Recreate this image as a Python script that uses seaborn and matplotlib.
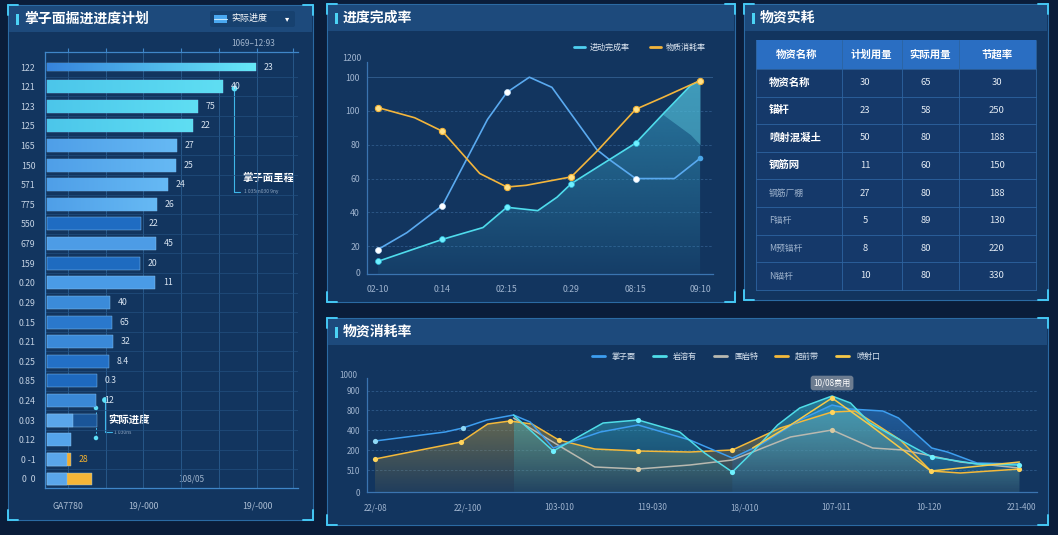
import numpy as np
import seaborn as sns
import matplotlib.pyplot as plt
from matplotlib.patches import Rectangle, FancyBboxPatch
from matplotlib.colors import LinearSegmentedColormap, to_rgb

W, H = 1058, 535

# ---- 掌子面掘进进度计划 (horizontal bars)
rows = ['122', '121', '123', '125', '165', '150', '571', '775', '550', '679', '159',
        '0.20', '0.29', '0.15', '0.21', '0.25', '0.85', '0.24', '0.03', '0.12', '0 -1', '0  0']
bar_len = [209, 176, 151, 146, 130, 129, 121, 110, 94, 109, 93, 108,
           63, 65, 66, 62, 50, 49, 50, 24, 24, 45]
bar_txt = ['23', '40', '75', '22', '27', '25', '24', '26', '22', '45', '20', '11',
           '40', '65', '32', '8.4', '0.3', '12', '', '', '28', '']
bar_col = ['#3f95e2', '#52cdea', '#56d4ed', '#58d8ee', '#5cb2f0', '#5ab0ef', '#5db4f2', '#58aaee',
           '#1f6cc2', '#4d9ce6', '#1e6bc0', '#4a9be6', '#3b8bd9', '#2a78cc', '#3a89d8', '#2370c6',
           '#1e69be', '#3a88d6', '#1a5598', '#55a4ea', '#f2ab2e', '#f5b537']
seg_rows = ['0.03', '0 -1', '0  0']
seg_len = [26, 20, 20]
left_xt = ['GA7780', '', '19/-000', '', '', '19/-000', '']

# ---- 进度完成率
mid_xt = ['02-10', '0:14', '02:15', '0:29', '08:15', '09:10']
blue_x = [0, 0.45, 1, 1.7, 2, 2.35, 2.7, 3.4, 3.6, 4, 4.6, 5]
blue_y = [18, 28, 44, 95, 111, 120, 114, 77, 71, 60, 60, 72]
blue_mk = [1, 0, 1, 0, 1, 0, 0, 0, 0, 1, 0, 1]
cyan_x = [0, 1, 1.63, 2, 2.48, 2.78, 3, 4, 4.42, 4.85, 5]
cyan_y = [11, 24, 31, 43, 41, 49, 57, 81, 98, 115, 118]
cyan_mk = [1, 1, 0, 1, 0, 0, 1, 1, 0, 0, 0]
orng_x = [0, 0.57, 1, 1.58, 2, 2.3, 3, 3.42, 4, 4.42, 5]
orng_y = [102, 96, 88, 63, 55, 56, 61, 77, 101, 108, 118]
orng_mk = [1, 0, 1, 0, 1, 0, 1, 0, 1, 0, 1]
tri_x = [4.42, 4.85, 5]
tri_lo = [98, 86, 80]
tri_hi = [98, 115, 118]
mid_yt = [4.5, 20, 40, 60, 80, 100, 120]
mid_yl = ['0', '20', '40', '60', '80', '100', '100']
mid_leg = ['进动完成率', '物质消耗率']

# ---- 物资实耗 table
tbl_head = ['物资名称', '计划用量', '实际用量', '节超率']
tbl_name = ['物资名称', '锚杆', '喷射混凝土', '钢筋网', '钢筋厂棚', 'F锚杆', 'M预锚杆', 'N锚杆']
tbl_plan = [30, 23, 50, 11, 27, 5, 8, 10]
tbl_real = [65, 58, 80, 60, 80, 89, 80, 80]
tbl_rate = [30, 250, 188, 150, 188, 130, 220, 330]

# ---- 物资消耗率
bot_xt = ['22/-08', '22/-100', '103-010', '119-030', '18/-010', '107-011', '10-120', '221-400']
bot_yt = [0, 110, 210, 310, 410, 505]
bot_yl = ['0', '510', '200', '400', '800', '900']
a_x = [0, 0.76, 0.95, 1.21, 1.5, 1.68, 1.93, 2.44, 2.85, 3.41, 3.87, 4.17, 4.6, 4.95, 5.15, 5.5, 5.67, 6.03, 6.2, 6.52, 6.98]
a_y = [255, 300, 320, 360, 385, 350, 220, 300, 335, 260, 170, 235, 360, 435, 415, 405, 370, 220, 200, 145, 140]
a_mk = [1, 0, 1, 0, 0, 0, 0, 0, 0, 0, 0, 0, 0, 0, 0, 0, 0, 0, 0, 0, 0]
b_x = [1.5, 1.93, 2.47, 2.85, 3.3, 3.57, 3.87, 4.09, 4.36, 4.6, 4.95, 5.15, 5.36, 5.69, 6.03, 6.52, 6.98]
b_y = [385, 205, 345, 360, 300, 195, 100, 200, 335, 420, 480, 445, 345, 260, 175, 140, 135]
b_mk = [0, 1, 0, 1, 0, 0, 1, 0, 0, 0, 0, 0, 0, 0, 1, 0, 1]
c_x = [1.5, 1.98, 2.38, 2.85, 3.41, 3.87, 4.09, 4.5, 4.95, 5.39, 5.72, 6.34, 6.98]
c_y = [370, 235, 125, 115, 135, 160, 200, 275, 310, 220, 210, 150, 120]
c_mk = [0, 0, 0, 1, 0, 0, 0, 0, 1, 0, 0, 0, 0]
d_x = [0, 0.93, 1.22, 1.46, 1.7, 1.99, 2.38, 2.85, 3.41, 3.87, 4.39, 4.95, 5.2, 5.69, 6.02, 6.34, 6.98]
d_y = [165, 250, 340, 355, 340, 260, 215, 205, 200, 210, 320, 400, 405, 260, 105, 95, 115]
d_mk = [1, 1, 0, 1, 0, 1, 0, 1, 0, 1, 0, 1, 0, 0, 1, 0, 1]
e_x = [4.09, 4.5, 4.95, 5.36, 6.02, 6.98]
e_y = [220, 335, 470, 335, 105, 150]
e_mk = [0, 0, 1, 0, 0, 0]
bot_leg = ['掌子面', '岩溶有', '围岩特', '超前带', '喷射口']
bot_col = ['#3d9ef0', '#4fdde8', '#b9b9b0', '#f4b93a', '#f7c948']

sns.set_style('dark')
plt.rcParams['font.family'] = ['Noto Sans CJK SC', 'DejaVu Sans']
plt.rcParams['axes.unicode_minus'] = False

fig = plt.figure(figsize=(W / 100, H / 100), dpi=100)
fig.patch.set_facecolor('#0a1d3a')


def box(l, t, r, b):
    return [l / W, 1 - b / H, (r - l) / W, (b - t) / H]


ov = fig.add_axes([0, 0, 1, 1])
ov.set_xlim(0, W)
ov.set_ylim(H, 0)
ov.axis('off')


def panel(l, t, r, b, title):
    ov.add_patch(Rectangle((l, t), r - l, b - t, fc='#12355f', ec='#2b6aa3', lw=0.8))
    ov.add_patch(Rectangle((l + 1, t + 1), r - l - 2, 26, fc='#1d4a7c', ec='none'))
    ov.add_patch(Rectangle((l + 8, t + 9), 2.5, 11, fc='#4cd3f5', ec='none'))
    ov.text(l + 16, t + 14, title, color='white', fontsize=10, fontweight='bold', va='center')
    for cx, cy, dx, dy in [(l, t, 1, 1), (r, t, -1, 1), (l, b, 1, -1), (r, b, -1, -1)]:
        ov.plot([cx, cx + dx * 10], [cy, cy], color='#45c8f5', lw=1.4)
        ov.plot([cx, cx], [cy, cy + dy * 10], color='#45c8f5', lw=1.4)


panel(8, 5, 313, 520, '掌子面掘进进度计划')
panel(327, 4, 735, 302, '进度完成率')
panel(744, 4, 1048, 300, '物资实耗')
panel(327, 318, 1048, 525, '物资消耗率')

# legend chip in panel 1
ov.add_patch(FancyBboxPatch((210, 11), 85, 16, boxstyle='round,pad=0,rounding_size=2', fc='#17416f', ec='none'))
ov.add_patch(Rectangle((214, 15), 13, 8, fc='#4aa8f0', ec='none'))
ov.plot([214, 227], [19, 19], color='#bfe6ff', lw=0.8)
ov.text(231, 19, '实际进度', color='white', fontsize=6.5, va='center')
ov.text(287, 19, '▾', color='white', fontsize=6, va='center', ha='center', family='DejaVu Sans')
ov.text(253, 43, '1069–12:93', color='#9fb3cb', fontsize=6, ha='center', va='center')
ov.text(191, 479, '108/05', color='#9fb3cb', fontsize=6, ha='center', va='center', zorder=5)

# ---------- left bar chart
ax1 = fig.add_axes(box(45, 52, 298, 488))
ax1.set_facecolor('none')
sns.barplot(x=bar_len, y=rows, hue=rows, palette=bar_col, legend=False, orient='h',
            width=0.66, saturation=1, ax=ax1, zorder=3, edgecolor='#8fcaf5', linewidth=0.3)
n_main = len(ax1.patches)
sns.barplot(x=seg_len, y=seg_rows, order=rows, color='#5aa6ea', orient='h',
            width=0.66, saturation=1, ax=ax1, zorder=4, edgecolor='#8fcaf5', linewidth=0.3)

main = sorted(ax1.patches[:n_main], key=lambda p: p.get_y())
top = main[0]
top.set_y(top.get_y() + 0.12)
top.set_height(0.42)


def grad_bar(ax, p, c0, c1):
    x0, y0, w, h = p.get_x(), p.get_y(), p.get_width(), p.get_height()
    cm = LinearSegmentedColormap.from_list('g', [c0, c1])
    im = ax.imshow(np.linspace(0, 1, 64)[None, :], cmap=cm, extent=[x0, x0 + w, y0 + h, y0],
                   aspect='auto', zorder=p.get_zorder() + 0.01, interpolation='bilinear')
    im.set_clip_path(p)


grad_bar(ax1, main[0], '#3784dc', '#66e8f8')
for p in main[1:4]:
    grad_bar(ax1, p, '#4cc6ea', '#5fdef3')
for p in main[4:8]:
    grad_bar(ax1, p, '#4f9fe8', '#66b9f4')

for i, (v, t) in enumerate(zip(bar_len, bar_txt)):
    ax1.text(v + 8, i, t, va='center', fontsize=6.3,
             color='#f0b030' if i == 20 else '#d6e2ef', zorder=5)

grid_x = [21, 59, 96, 134, 172, 210, 246]
for gx in grid_x:
    ax1.axvline(gx, color='#2a5d90', lw=0.6, zorder=1)
for i in range(len(rows)):
    ax1.axhline(i + 0.5, color='#234f80', lw=0.5, zorder=1)
ax1.set_xticks(grid_x)
ax1.set_xticklabels(left_xt)
ax1.set_xlim(-2, 251)
ax1.set_ylim(21.46, -0.765)
ax1.set_xlabel('')
ax1.set_ylabel('')
for s in ['left', 'bottom', 'top']:
    ax1.spines[s].set_visible(True)
    ax1.spines[s].set_color('#3f86c8')
    ax1.spines[s].set_linewidth(0.9)
ax1.spines['right'].set_visible(False)
ax1.tick_params(axis='y', length=0, pad=7, labelsize=6.3, labelcolor='#c3d1e2')
ax1.tick_params(axis='x', length=3, color='#3f86c8', labelsize=6.3, labelcolor='#a9bbd1',
                pad=7, top=True, direction='out')

# annotations in left chart
ov.plot([234, 234, 240], [88, 192, 192], color='#3fb6e8', lw=0.8, zorder=6)
ov.scatter([234], [88], s=10, color='#5fe0f8', zorder=7)
ov.text(242, 178, '掌子面里程', color='white', fontsize=7.5, fontweight='bold', va='center', zorder=7)
ov.text(244, 192, '1 035m030 9ny', color='#8ea6c2', fontsize=3.5, va='center', zorder=7)
ov.plot([105, 105, 112], [400, 432, 432], color='#3fb6e8', lw=0.8, zorder=6)
ov.plot([96, 96], [408, 438], color='#3fb6e8', lw=0.7, ls=(0, (2, 2)), zorder=6)
ov.scatter([105, 96, 96], [400, 408, 438], s=[10, 5, 5], color='#5fe0f8', zorder=7)
ov.text(108, 420, '实际进度', color='white', fontsize=7.5, fontweight='bold', va='center', zorder=7)
ov.text(114, 432, '1 030ns', color='#8ea6c2', fontsize=3.5, va='center', zorder=7)


def style_ax(ax):
    ax.set_facecolor('none')
    for s in ['top', 'right']:
        ax.spines[s].set_visible(False)
    for s in ['left', 'bottom']:
        ax.spines[s].set_visible(True)
        ax.spines[s].set_color('#3a74b0')
        ax.spines[s].set_linewidth(0.9)
    ax.tick_params(length=0, labelsize=6.3, labelcolor='#9fb4cf')
    ax.grid(False)
    ax.set_xlabel('')
    ax.set_ylabel('')


def grad_area(ax, x, y, color, a0, a1, base, z):
    poly = ax.fill_between(x, y, base, facecolor='none', edgecolor='none')
    arr = np.zeros((100, 1, 4))
    arr[:, 0, :3] = to_rgb(color)
    arr[:, 0, 3] = np.linspace(a0, a1, 100)
    im = ax.imshow(arr, extent=[min(x), max(x), base, max(y)], aspect='auto',
                   origin='upper', zorder=z, interpolation='bilinear')
    im.set_clip_path(poly.get_paths()[0], transform=ax.transData)


def pick(xs, ys, mk):
    return [a for a, m in zip(xs, mk) if m], [b for b, m in zip(ys, mk) if m]


# ---------- middle line chart
ax2 = fig.add_axes(box(367, 62, 713, 274))
style_ax(ax2)
for gy in [20, 40, 60, 80, 100]:
    ax2.axhline(gy, color='#2e5a8a', lw=0.6, ls=(0, (3, 2)), zorder=0)
ax2.axhline(120, color='#2e5a8a', lw=0.7, zorder=0)
grad_area(ax2, cyan_x, cyan_y, '#39a6cc', 0.6, 0.08, 3.5, 1)
ax2.fill_between(tri_x, tri_lo, tri_hi, color='#5cc6dc', alpha=0.45, lw=0, zorder=1.5)
sns.lineplot(x=blue_x, y=blue_y, color='#5aaaf0', lw=1.2, estimator=None, sort=False, ax=ax2, zorder=3)
sns.lineplot(x=cyan_x, y=cyan_y, color='#4fdcec', lw=1.2, estimator=None, sort=False, ax=ax2, zorder=3)
sns.lineplot(x=orng_x, y=orng_y, color='#f3b53c', lw=1.2, estimator=None, sort=False, ax=ax2, zorder=3)
bx, by = pick(blue_x, blue_y, blue_mk)
sns.scatterplot(x=bx[:-1], y=by[:-1], color='white', s=18, edgecolor='#cfe8ff', linewidth=0.5, ax=ax2, zorder=4)
sns.scatterplot(x=bx[-1:], y=by[-1:], color='#4aa6e8', s=16, linewidth=0, ax=ax2, zorder=4)
cx, cy = pick(cyan_x, cyan_y, cyan_mk)
sns.scatterplot(x=cx, y=cy, color='#6ff0ff', s=18, edgecolor='#2fb8d8', linewidth=0.5, ax=ax2, zorder=4)
ox, oy = pick(orng_x, orng_y, orng_mk)
sns.scatterplot(x=ox, y=oy, color='#ffe28a', s=20, edgecolor='#f3b53c', linewidth=0.8, ax=ax2, zorder=4)
ax2.set_xlim(-0.17, 5.2)
ax2.set_ylim(3.5, 129)
ax2.set_xticks(range(len(mid_xt)))
ax2.set_xticklabels(mid_xt)
ax2.set_yticks(mid_yt)
ax2.set_yticklabels(mid_yl)
ax2.tick_params(axis='x', pad=8)
ax2.tick_params(axis='y', pad=5)
ax2.text(-0.015, 131, '1200', transform=ax2.get_yaxis_transform(), ha='right', va='center',
         fontsize=6.3, color='#9fb4cf', clip_on=False)
for i, (nm, col) in enumerate(zip(mid_leg, ['#4fd0f0', '#f3b53c'])):
    x0 = 574 + 76 * i
    ov.plot([x0, x0 + 11], [47, 47], color=col, lw=2, solid_capstyle='round')
    ov.text(x0 + 16, 47, nm, color='#e2ebf5', fontsize=5.8, va='center')

# ---------- table
cols = [756, 842, 902, 959, 1036]
ty0, th, rh = 40, 29, 27.6
ov.add_patch(Rectangle((756, ty0), 280, th, fc='#2a6ec2', ec='none'))
ov.add_patch(Rectangle((756, ty0 + th), 280, rh * len(tbl_name), fc='#15396a', ec='none'))
for cxp in cols[1:-1]:
    ov.plot([cxp, cxp], [ty0, ty0 + th + rh * len(tbl_name)], color='#2d64a0', lw=0.6)
for j in range(len(tbl_name) + 1):
    yy = ty0 + th + rh * j
    ov.plot([756, 1036], [yy, yy], color='#2d64a0', lw=0.6)
ov.plot([756, 756], [ty0, ty0 + th + rh * 8], color='#2d64a0', lw=0.6)
ov.plot([1036, 1036], [ty0, ty0 + th + rh * 8], color='#2d64a0', lw=0.6)
hc = [797, 871, 930, 997]
for h_txt, xh in zip(tbl_head, hc):
    ov.text(xh, ty0 + th / 2, h_txt, color='white', fontsize=7.5, fontweight='bold', ha='center', va='center')
for j, (nm, p1, p2, p3) in enumerate(zip(tbl_name, tbl_plan, tbl_real, tbl_rate)):
    yy = ty0 + th + rh * (j + 0.5)
    if j < 4:
        ov.text(769, yy, nm, color='white', fontsize=7.5, fontweight='bold', va='center')
    else:
        ov.text(769, yy, nm, color='#9db2cc', fontsize=6.3, va='center')
    ov.text(865, yy, str(p1), color='#e2eaf3', fontsize=6.8, ha='center', va='center')
    ov.text(926, yy, str(p2), color='#e2eaf3', fontsize=6.8, ha='center', va='center')
    ov.text(997, yy, str(p3), color='#e2eaf3', fontsize=6.8, ha='center', va='center')

# ---------- bottom line chart
ax4 = fig.add_axes(box(367, 378, 1037, 492))
style_ax(ax4)
for gy in bot_yt[1:]:
    ax4.axhline(gy, color='#2e5a8a', lw=0.6, ls=(0, (3, 2)), zorder=0)
grad_area(ax4, d_x, d_y, '#a69148', 0.6, 0.1, 0, 1)
grad_area(ax4, a_x[10:], a_y[10:], '#2f7fd0', 0.55, 0.08, 0, 1.1)
grad_area(ax4, b_x, b_y, '#3cc4d4', 0.5, 0.05, 0, 1.2)
series = [(c_x, c_y, c_mk), (d_x, d_y, d_mk), (a_x, a_y, a_mk), (b_x, b_y, b_mk), (e_x, e_y, e_mk)]
ser_col = [bot_col[2], bot_col[3], bot_col[0], bot_col[1], bot_col[4]]
mk_col = ['#d9c9a0', '#ffd45c', '#8fd8f5', '#6ff0ff', '#ffd45c']
for (xs, ys, mk), col, mc in zip(series, ser_col, mk_col):
    sns.lineplot(x=xs, y=ys, color=col, lw=1.1, estimator=None, sort=False, ax=ax4, zorder=3)
    px, py = pick(xs, ys, mk)
    sns.scatterplot(x=px, y=py, color=mc, s=14, linewidth=0, ax=ax4, zorder=4)
ax4.text(e_x[2], 545, '10/08费用', ha='center', va='center', fontsize=5.8, color='white',
         bbox=dict(boxstyle='round,pad=0.35', fc='#6c7c90', ec='none'), zorder=6, clip_on=False)
ax4.set_xlim(-0.087, 7.17)
ax4.set_ylim(0, 570)
ax4.set_xticks(range(len(bot_xt)))
ax4.set_xticklabels(bot_xt)
ax4.set_yticks(bot_yt)
ax4.set_yticklabels(bot_yl)
ax4.tick_params(axis='x', pad=8, labelsize=5.8)
ax4.tick_params(axis='y', pad=5, labelsize=5.8)
ax4.text(-0.015, 580, '1000', transform=ax4.get_yaxis_transform(), ha='right', va='center',
         fontsize=5.8, color='#9fb4cf', clip_on=False)
for i, (nm, col) in enumerate(zip(bot_leg, bot_col)):
    x0 = 592 + 61 * i
    ov.plot([x0, x0 + 13], [356, 356], color=col, lw=2, solid_capstyle='round')
    ov.text(x0 + 20, 356, nm, color='#d8e3ef', fontsize=5.8, va='center')

fig.savefig('out.png', dpi=100, facecolor=fig.get_facecolor())
